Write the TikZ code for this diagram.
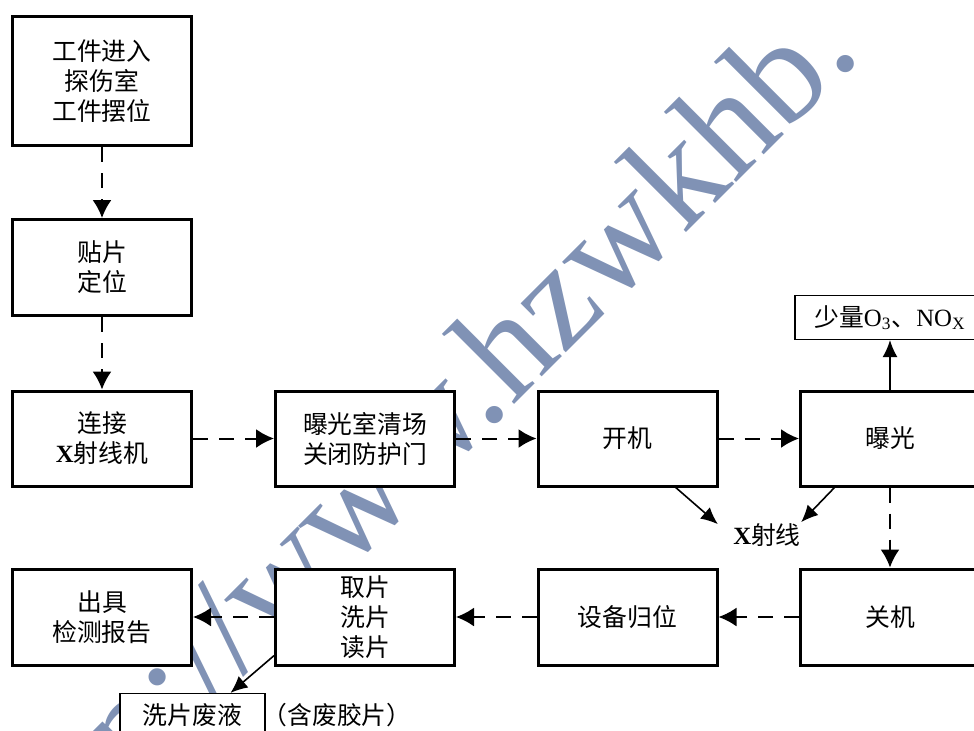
\documentclass[tikz,border=0pt]{standalone}
\usepackage{fontspec}
\setmainfont{Liberation Serif}
\newfontfamily\cjk{Noto Sans CJK SC}
\usetikzlibrary{arrows.meta,calc}
\definecolor{wmcol}{RGB}{128,146,181}
\begin{document}
\begin{tikzpicture}[x=0.5pt,y=-0.5pt,
  cjkfont/.style={font=\cjk\fontsize{12.4}{15}\selectfont},
  box/.style={draw,line width=1.5pt,fill=white,minimum width=89.5pt,minimum height=47.5pt,inner sep=0pt,align=center,cjkfont},
  thinbox/.style={draw,line width=0.6pt,fill=white,minimum height=22pt,inner sep=0pt,align=center,cjkfont},
  lbl/.style={inner sep=0pt,cjkfont},
  dasharrow/.style={line width=1pt,dash pattern=on 7.5pt off 5.5pt,-{Latex[length=9pt,width=9.5pt]}},
  solidarrow/.style={line width=0.8pt,-{Latex[length=8.5pt,width=7.5pt]}},
  wmtext/.style={inner sep=0pt,text=wmcol,font=\fontsize{72.5}{80}\selectfont}
]
\useasboundingbox (0,0) rectangle (974,730);
\clip (0,0) rectangle (974,730);
% watermark
\node[wmtext,rotate=45,anchor=base west] (wm) at (26,893) {http://www.hzwkhb.};
% boxes
\node[box,minimum height=64.5pt] (b1) at (102,81) {工件进入\\探伤室\\工件摆位};
\node[box,minimum height=48pt] (b2) at (102,267.5) {贴片\\定位};
\node[box] (b3) at (102,438.5) {连接\\{\rmfamily\bfseries X}射线机};
\node[box] (b4) at (365,438.5) {曝光室清场\\关闭防护门};
\node[box] (b5) at (627.5,438.5) {开机};
\node[box] (b6) at (890,438.5) {曝光};
\node[box,minimum height=48pt] (b7) at (890,617) {关机};
\node[box,minimum height=48pt] (b8) at (627.5,617) {设备归位};
\node[box,minimum height=48pt] (b9) at (365,617) {取片\\洗片\\读片};
\node[box,minimum height=48pt] (b10) at (102,617) {出具\\检测报告};
\node[thinbox,minimum width=95pt] (top) at (890,317.5) {少量{\rmfamily O\textsubscript{3}}、{\rmfamily NO\textsubscript{X}}};
\node[thinbox,minimum width=72.5pt] (waste) at (192.5,715.5) {洗片废液};
\node[lbl] (hanfei) at (337,715) {（含废胶片）};
\node[lbl] (xl) at (767,535) {{\rmfamily\bfseries X}射线};
% dashed flow
\draw[dasharrow] (b1) -- (b2);
\draw[dasharrow] (b2) -- (b3);
\draw[dasharrow] (b3) -- (b4);
\draw[dasharrow] (b4) -- (b5);
\draw[dasharrow] (b5) -- (b6);
\draw[dasharrow] (b6) -- (b7);
\draw[dasharrow] (b7) -- (b8);
\draw[dasharrow] (b8) -- (b9);
\draw[dasharrow] (b9) -- (b10);
% solid arrows
\draw[solidarrow] (b6.north) -- (top.south);
\draw[solidarrow] ($(b5.south)!0.53!(b5.south east)$) -- ($(xl.north west)+(-15,1)$);
\draw[solidarrow] ($(b6.south)!0.61!(b6.south west)$) -- ($(xl.north east)+(0,-1)$);
\draw[solidarrow] ($(b9.south west)!0.22!(b9.west)$) -- ($(waste.north)!0.52!(waste.north east)$);
\end{tikzpicture}
\end{document}
